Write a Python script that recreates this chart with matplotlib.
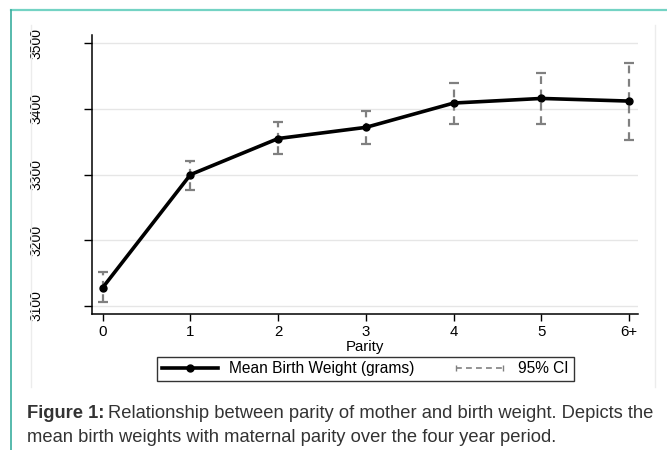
import numpy as np
import matplotlib.pyplot as plt
from matplotlib.lines import Line2D
from matplotlib.legend_handler import HandlerLine2D

plt.rcParams['font.family'] = ['Liberation Sans', 'DejaVu Sans']

# data
parity_labels = ['0', '1', '2', '3', '4', '5', '6+']
mean_weight = [3128, 3300, 3355, 3372, 3409, 3416, 3412]
ci_low = [3106, 3276, 3331, 3346, 3377, 3377, 3353]
ci_high = [3151, 3320, 3380, 3397, 3439, 3455, 3470]
y_ticks = [3100, 3200, 3300, 3400, 3500]

W, H = 667, 450
fig = plt.figure(figsize=(W / 100, H / 100), dpi=100)

# page decorations: teal border and light stata frame
fig.add_artist(Line2D([11 / W, 1], [1 - 10 / H] * 2, color='#74d3c4', lw=1.6))
fig.add_artist(Line2D([11 / W] * 2, [0, 1 - 10 / H], color='#3aae9e', lw=1.2))
for xp in (31, 655):
    fig.add_artist(Line2D([xp / W] * 2, [1 - 25 / H, 1 - 387 / H], color='#ececec', lw=1))

ax = fig.add_axes([92 / W, 1 - 314 / H, (638 - 92) / W, (314 - 35) / H])
x = np.arange(len(parity_labels))
mean_weight = np.array(mean_weight)
lo = mean_weight - np.array(ci_low)
hi = np.array(ci_high) - mean_weight

eb = ax.errorbar(x, mean_weight, yerr=[lo, hi], fmt='none', ecolor='#808080',
                 elinewidth=1.6, capsize=3.5, capthick=1.6, zorder=2)
eb[2][0].set_linestyle((0, (3.5, 2.5)))
ax.plot(x, mean_weight, color='black', lw=2.6, marker='o', ms=5, zorder=3)

ax.set_xlim(-0.122, 6.10)
ax.set_ylim(3087.8, 3512.6)
ax.set_xticks(x)
ax.set_xticklabels(parity_labels)
ax.set_yticks(y_ticks)
ax.grid(axis='y', color='#e6e6e6', lw=1)
ax.set_axisbelow(True)
for s in ('top', 'right'):
    ax.spines[s].set_visible(False)
for s in ('left', 'bottom'):
    ax.spines[s].set_linewidth(1.1)
ax.tick_params(axis='y', length=6, width=1, labelsize=10, pad=29, labelrotation=90)
for lab in ax.get_yticklabels():
    lab.set_va('center')
ax.tick_params(axis='x', length=5, width=1, labelsize=10.8, pad=3)
ax.set_xlabel('Parity', fontsize=10.8, labelpad=1)

mean_h = Line2D([], [], color='black', lw=2.6, marker='o', ms=5)
ci_h = Line2D([], [], color='#808080', lw=1.2, ls=(0, (3.5, 2.5)), marker='|', ms=5)
leg = fig.legend([mean_h, ci_h], ['Mean Birth Weight (grams)', '95% CI'],
                 loc='center', bbox_to_anchor=(365.5 / W, 1 - 369 / H), ncol=2,
                 fontsize=11.2, frameon=True, fancybox=False, edgecolor='black',
                 handlelength=3.6, columnspacing=2.4, handletextpad=0.7,
                 borderpad=0.3, handler_map={ci_h: HandlerLine2D(numpoints=2)})
leg.get_frame().set_linewidth(1)

cap_y1 = 1 - 413 / H
cap_y2 = 1 - 438 / H
t = fig.text(27 / W, cap_y1, 'Figure 1:', fontsize=13.2, fontweight='bold',
             color='#333333', va='center')
fig.canvas.draw()
bb = t.get_window_extent()
fig.text(bb.x1 / W + 4 / W, cap_y1,
         'Relationship between parity of mother and birth weight. Depicts the',
         fontsize=13.2, color='#333333', va='center')
fig.text(27 / W, cap_y2, 'mean birth weights with maternal parity over the four year period.',
         fontsize=13.2, color='#333333', va='center')

fig.savefig('out.png', dpi=100)
